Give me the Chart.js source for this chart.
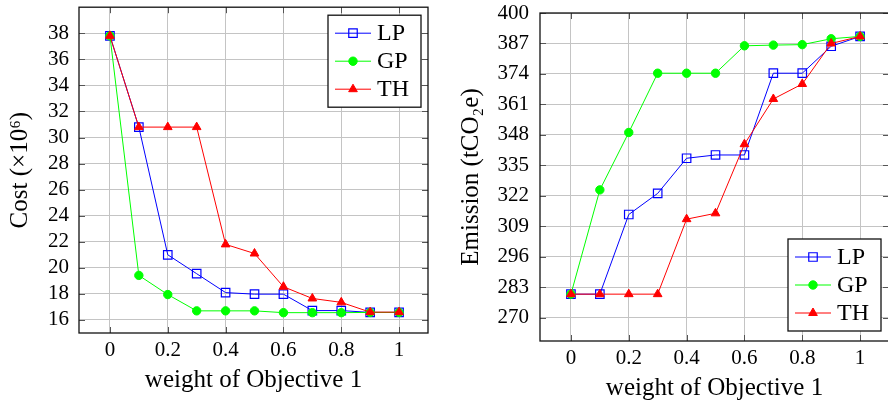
<!DOCTYPE html>
<html>
<head>
<meta charset="utf-8">
<script src="https://cdn.jsdelivr.net/npm/chart.js@4.4.0/dist/chart.umd.min.js"></script>
<style>
  body { margin: 0; width: 888px; height: 405px; overflow: hidden; background: #fff; position: relative; }
  canvas { position: absolute; top: 0; }
</style>
</head>
<body>
<canvas id="costChart" width="444" height="405" style="left:0"></canvas>
<canvas id="emissionChart" width="460" height="405" style="left:444px"></canvas>
<script>
// weights of objective 1 (x axis, both charts)
const weights = [0, 0.1, 0.2, 0.3, 0.4, 0.5, 0.6, 0.7, 0.8, 0.9, 1];
const xTicks = [0, 0.2, 0.4, 0.6, 0.8, 1];

// left chart: cost (x10^6)
const costLP = [37.8, 30.8, 21.0, 19.55, 18.1, 17.98, 17.98, 16.72, 16.72, 16.58, 16.58];
const costGP = [37.8, 19.42, 17.95, 16.7, 16.7, 16.7, 16.56, 16.56, 16.56, 16.58, 16.58];
const costTH = [37.8, 30.8, 30.8, 30.8, 21.8, 21.1, 18.55, 17.65, 17.35, 16.6, 16.6];
const costTicks = [16, 18, 20, 22, 24, 26, 28, 30, 32, 34, 36, 38];

// right chart: emission (tCO2e)
const emisLP = [280, 280, 314, 323, 338, 339.4, 339.4, 374.3, 374.3, 385.8, 390];
const emisGP = [280, 324.5, 349, 374.3, 374.3, 374.3, 386, 386.3, 386.5, 389, 390];
const emisTH = [280, 280, 280, 280, 312, 314.5, 344, 363.3, 369.7, 387, 390];
const emisTicks = [270, 283, 296, 309, 322, 335, 348, 361, 374, 387, 400];

const seriesNames = ['LP', 'GP', 'TH'];

const FONT = '"Liberation Serif", "DejaVu Serif", serif';
Chart.defaults.color = '#000';
Chart.defaults.font.family = FONT;

function toPoints(ys) {
  return weights.map((w, i) => ({ x: w, y: ys[i] }));
}

function makeDatasets(lp, gp, th) {
  return [
    { label: seriesNames[0], data: toPoints(lp), order: 2,
      borderColor: '#0000ff', backgroundColor: '#0000ff', borderWidth: 1,
      pointStyle: 'rect', pointRadius: 6, pointBorderWidth: 1.2,
      pointBackgroundColor: 'rgba(0,0,0,0)', pointBorderColor: '#0000ff' },
    { label: seriesNames[1], data: toPoints(gp), order: 1,
      borderColor: '#00ff00', backgroundColor: '#00ff00', borderWidth: 1,
      pointStyle: 'circle', pointRadius: 4.2, pointBorderWidth: 1,
      pointBackgroundColor: '#00ff00', pointBorderColor: '#00ff00' },
    { label: seriesNames[2], data: toPoints(th), order: 0,
      borderColor: '#ff0000', backgroundColor: '#ff0000', borderWidth: 1,
      pointStyle: 'triangle', pointRadius: 5, pointBorderWidth: 1,
      pointBackgroundColor: '#ff0000', pointBorderColor: '#ff0000' }
  ];
}

// marker for legend entries
function drawMark(ctx, ds, x, y) {
  ctx.save();
  ctx.strokeStyle = ds.pointBorderColor;
  ctx.fillStyle = ds.pointBackgroundColor;
  ctx.lineWidth = ds.pointBorderWidth;
  ctx.beginPath();
  if (ds.pointStyle === 'rect') {
    const h = ds.pointRadius * Math.SQRT1_2;
    ctx.rect(x - h, y - h, 2 * h, 2 * h);
  } else if (ds.pointStyle === 'circle') {
    ctx.arc(x, y, ds.pointRadius, 0, Math.PI * 2);
  } else {
    const r = ds.pointRadius;
    for (let k = 0; k < 3; k++) {
      const a = k * 2 * Math.PI / 3;
      const px = x + Math.sin(a) * r, py = y - Math.cos(a) * r;
      k ? ctx.lineTo(px, py) : ctx.moveTo(px, py);
    }
    ctx.closePath();
  }
  ctx.fill();
  ctx.stroke();
  ctx.restore();
}

// pgfplots-like frame, inner tick marks and legend box
const pgfFrame = {
  id: 'pgfFrame',
  afterDraw(chart, args, opts) {
    const { ctx, chartArea: a, scales } = chart;
    ctx.save();
    ctx.strokeStyle = '#555';
    ctx.lineWidth = 1;
    ctx.beginPath();
    scales.x.ticks.forEach(t => {
      const px = Math.round(scales.x.getPixelForValue(t.value)) + 0.5;
      ctx.moveTo(px, a.bottom); ctx.lineTo(px, a.bottom - 6);
      ctx.moveTo(px, a.top); ctx.lineTo(px, a.top + 6);
    });
    scales.y.ticks.forEach(t => {
      const py = Math.round(scales.y.getPixelForValue(t.value)) + 0.5;
      ctx.moveTo(a.left, py); ctx.lineTo(a.left + 6, py);
      ctx.moveTo(a.right, py); ctx.lineTo(a.right - 6, py);
    });
    ctx.stroke();
    ctx.strokeStyle = '#111';
    ctx.lineWidth = 1.3;
    ctx.strokeRect(a.left, a.top, a.right - a.left, a.bottom - a.top);

    // legend
    const lg = opts.legend;
    const x0 = a.right - lg.dx - lg.w;
    const y0 = lg.anchor === 'ne' ? a.top + lg.dy : a.bottom - lg.dy - lg.h;
    ctx.fillStyle = '#fff';
    ctx.fillRect(x0, y0, lg.w, lg.h);
    ctx.strokeRect(x0, y0, lg.w, lg.h);
    ctx.font = '24px ' + FONT;
    ctx.textBaseline = 'middle';
    ctx.textAlign = 'left';
    chart.data.datasets.forEach((ds, i) => {
      const cy = y0 + 18 + i * 28;
      ctx.strokeStyle = ds.borderColor;
      ctx.lineWidth = 1;
      ctx.beginPath();
      ctx.moveTo(x0 + 7, cy); ctx.lineTo(x0 + 43, cy);
      ctx.stroke();
      drawMark(ctx, ds, x0 + 25, cy);
      ctx.fillStyle = '#000';
      ctx.fillText(ds.label, x0 + 49, cy + 1);
    });
    ctx.restore();
  }
};

function makeChart(id, cfg) {
  return new Chart(document.getElementById(id), {
    type: 'line',
    data: { datasets: makeDatasets(...cfg.series) },
    options: {
      responsive: false,
      animation: false,
      layout: { padding: cfg.padding },
      plugins: {
        legend: { display: false },
        tooltip: { enabled: false },
        pgfFrame: { legend: cfg.legend }
      },
      scales: {
        x: {
          type: 'linear',
          min: -0.107, max: 1.1,
          afterBuildTicks: s => { s.ticks = xTicks.map(v => ({ value: v })); },
          afterFit: s => { s.height = cfg.xHeight; s.paddingLeft = 0; s.paddingRight = 0; },
          grid: { color: '#c4c4c4', lineWidth: 1, drawTicks: false },
          border: { display: false },
          ticks: { autoSkip: false, maxRotation: 0, padding: 5,
                   font: { family: FONT, size: 21 }, callback: v => String(v) },
          title: { display: true, text: 'weight of Objective 1',
                   font: { family: FONT, size: 25 }, padding: { bottom: cfg.xTitlePad } }
        },
        y: {
          min: cfg.yMin, max: cfg.yMax,
          afterBuildTicks: s => { s.ticks = cfg.yTicks.map(v => ({ value: v })); },
          afterFit: s => { s.width = cfg.yWidth; s.paddingTop = 0; s.paddingBottom = 0; },
          grid: { color: '#c4c4c4', lineWidth: 1, drawTicks: false },
          border: { display: false },
          ticks: { autoSkip: false, padding: cfg.yTickPad,
                   font: { family: FONT, size: 21 }, callback: v => String(v) },
          title: { display: true, text: cfg.yTitle,
                   font: { family: FONT, size: 25 }, padding: { top: cfg.yTitlePad } }
        }
      }
    },
    plugins: [pgfFrame]
  });
}

makeChart('costChart', {
  series: [costLP, costGP, costTH],
  yMin: 15, yMax: 40, yTicks: costTicks,
  yTitle: 'Cost (×10⁶)',
  padding: { top: 5, right: 16, left: 0, bottom: 0 },
  yWidth: 79, xHeight: 72, yTickPad: 10, yTitlePad: 5, xTitlePad: 10,
  legend: { anchor: 'ne', dx: 7, dy: 8, w: 93, h: 92 }
});

makeChart('emissionChart', {
  series: [emisLP, emisGP, emisTH],
  yMin: 260, yMax: 400, yTicks: emisTicks,
  yTitle: 'Emission (tCO₂e)',
  padding: { top: 13, right: 15, left: 0, bottom: 0 },
  yWidth: 96, xHeight: 64, yTickPad: 11, yTitlePad: 12, xTitlePad: 2,
  legend: { anchor: 'se', dx: 8, dy: 10, w: 93, h: 92 }
});
</script>
</body>
</html>
